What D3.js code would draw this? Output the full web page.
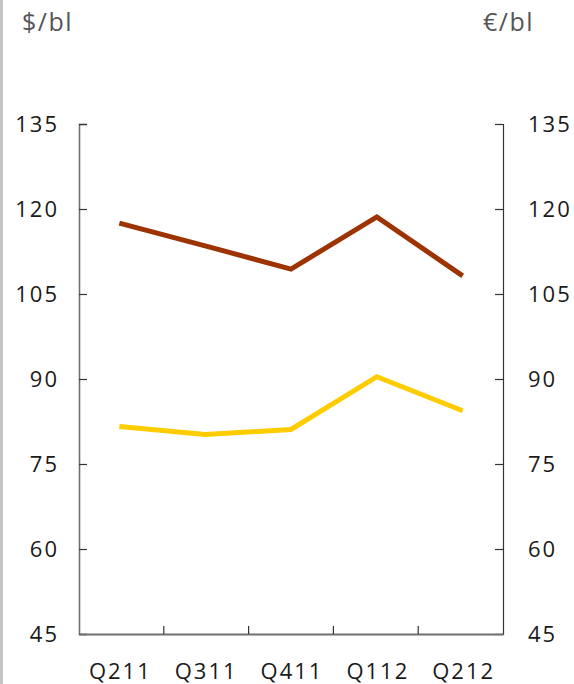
<!DOCTYPE html>
<html>
<head>
<meta charset="utf-8">
<script src="https://cdn.jsdelivr.net/npm/d3@7"></script>
<style>
  html, body { margin: 0; padding: 0; background: #fff; }
  svg { display: block; }
  text { font-family: "Open Sans", "Noto Sans", sans-serif; }
</style>
</head>
<body>
<svg id="chart" width="574" height="684"></svg>
<script>
// Quarters on the horizontal axis
const quarters = ["Q211", "Q311", "Q411", "Q112", "Q212"];
// Brent price in dollars per barrel
const usdPerBarrel = [117.5, 113.5, 109.4, 118.6, 108.2];
// Brent price in euros per barrel
const eurPerBarrel = [81.6, 80.2, 81.1, 90.4, 84.4];
// Shared value ticks for both vertical axes
const valueTicks = [45, 60, 75, 90, 105, 120, 135];

const svg = d3.select("#chart");
const plotLeft = 79, plotRight = 503, plotTop = 124, plotBottom = 634;

// thin grey rule at the left page edge
svg.append("line")
  .attr("x1", 1.5).attr("x2", 1.5).attr("y1", 0).attr("y2", 684)
  .attr("stroke", "#c4c4c4").attr("stroke-width", 3);

const y = d3.scaleLinear().domain([45, 135]).range([plotBottom, plotTop]);
const xPoint = d3.scalePoint().domain(quarters).range([plotLeft, plotRight]).padding(0.47);
const xBand = d3.scaleBand().domain(quarters).range([plotLeft, plotRight]);

const labelFont = 22, labelSpacing = 2;

// left axis ($/bl): ticks point into the plot
const leftAxis = svg.append("g")
  .attr("transform", `translate(${plotLeft},0)`)
  .call(d3.axisLeft(y).tickValues(valueTicks).tickSize(-8).tickPadding(20));
leftAxis.select(".domain").attr("stroke", "#6f6f6f").attr("stroke-width", 1.6);
leftAxis.selectAll(".tick line").attr("stroke", "#333").attr("stroke-width", 1.2);
leftAxis.selectAll(".tick text")
  .attr("font-size", labelFont).attr("fill", "#1a1a1a").attr("letter-spacing", labelSpacing)
  .attr("dy", "0.36em");

// right axis (€/bl)
const rightAxis = svg.append("g")
  .attr("transform", `translate(${plotRight},0)`)
  .call(d3.axisRight(y).tickValues(valueTicks).tickSize(-8).tickPadding(25));
rightAxis.select(".domain").attr("stroke", "#333").attr("stroke-width", 1.2);
rightAxis.selectAll(".tick line").attr("stroke", "#333").attr("stroke-width", 1.2);
rightAxis.selectAll(".tick text")
  .attr("font-size", labelFont).attr("fill", "#1a1a1a").attr("letter-spacing", labelSpacing)
  .attr("dy", "0.36em");

// bottom axis: ticks at quarter boundaries, labels at quarter centres
const bottomAxis = svg.append("g")
  .attr("transform", `translate(0,${plotBottom})`)
  .call(d3.axisBottom(xBand).tickValues([]).tickSizeOuter(0));
bottomAxis.select(".domain").attr("stroke", "#707070").attr("stroke-width", 2);
bottomAxis.selectAll(".sep")
  .data(quarters.slice(1))
  .join("line")
  .attr("class", "sep")
  .attr("x1", d => xBand(d)).attr("x2", d => xBand(d))
  .attr("y1", 0).attr("y2", -8)
  .attr("stroke", "#333").attr("stroke-width", 1.2);
bottomAxis.selectAll(".qlabel")
  .data(quarters)
  .join("text")
  .attr("class", "qlabel")
  .attr("x", d => xPoint(d) + labelSpacing / 2)
  .attr("y", 45)
  .attr("text-anchor", "middle")
  .attr("font-size", labelFont).attr("fill", "#1a1a1a").attr("letter-spacing", labelSpacing)
  .text(d => d);

// unit labels
svg.append("text").attr("x", 22).attr("y", 31)
  .attr("font-size", 25).attr("fill", "#555").attr("letter-spacing", 1.5)
  .text("$/bl");
svg.append("text").attr("x", 483).attr("y", 31)
  .attr("font-size", 25).attr("fill", "#555").attr("letter-spacing", 1.5)
  .text("€/bl");

// price lines
const line = d3.line().x((d, i) => xPoint(quarters[i])).y(d => y(d));
svg.append("path").datum(usdPerBarrel)
  .attr("d", line).attr("fill", "none")
  .attr("stroke", "#9c3300").attr("stroke-width", 5);
svg.append("path").datum(eurPerBarrel)
  .attr("d", line).attr("fill", "none")
  .attr("stroke", "#ffcc00").attr("stroke-width", 5);
</script>
</body>
</html>
